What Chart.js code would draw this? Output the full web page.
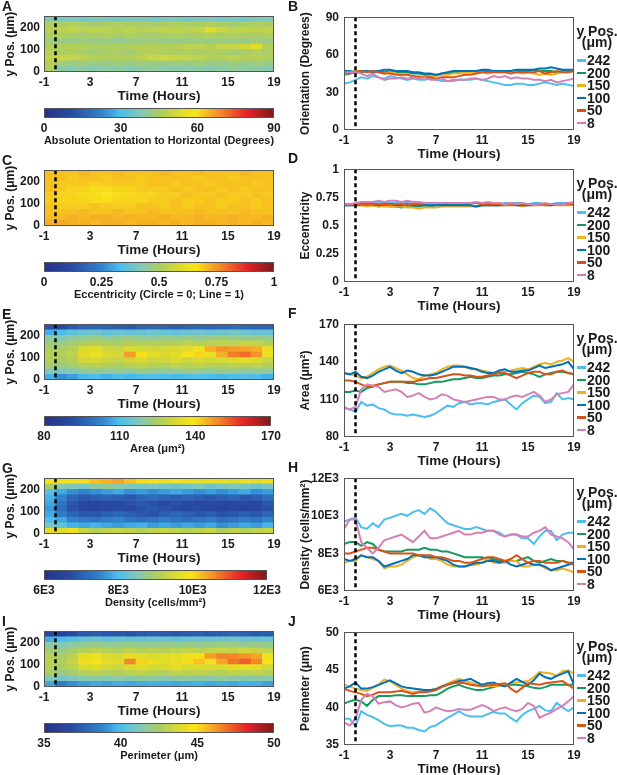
<!DOCTYPE html>
<html>
<head>
<meta charset="utf-8">
<script src="https://cdn.jsdelivr.net/npm/chart.js@4.4.1/dist/chart.umd.min.js"></script>
<style>
  body { margin: 0; background: #fff; width: 617px; height: 775px; position: relative; overflow: hidden;
         font-family: "Liberation Sans", Arial, Helvetica, sans-serif; color: #1a1a1a; }
  canvas { position: absolute; }
  .txt { position: absolute; font-weight: bold; white-space: nowrap; }
  .letter { font-size: 14px; line-height: 14px; }
  .leg { font-size: 14px; line-height: 12px; }
  .sw { position: absolute; width: 9px; height: 2.5px; }
</style>
</head>
<body>
<script>
// ---- shared axes ----
const TIMES = [-1,-0.5,0,0.5,1,1.5,2,2.5,3,3.5,4,4.5,5,5.5,6,6.5,7,7.5,8,8.5,9,9.5,10,10.5,11,11.5,12,12.5,13,13.5,14,14.5,15,15.5,16,16.5,17,17.5,18,18.5,19];
const BIN_CENTERS = [-0.5,0.5,1.5,2.5,3.5,4.5,5.5,6.5,7.5,8.5,9.5,10.5,11.5,12.5,13.5,14.5,15.5,16.5,17.5,18.5];
const ROW_EDGES = [0,25,50,75,100,125,150,175,200,225,250];
const X_TICKS = [-1,3,7,11,15,19];
const HEAT_Y_TICKS = [0,100,200];
const MARK_TIME = 0;

const Y_POS = ["242","200","150","100","50","8"];
const SERIES_COLORS = ["#4dbeee","#139a5c","#edb120","#0072bd","#d95319","#d77fb5"];

// ---- B: orientation (degrees) ----
const orient242 = [37,38,40,42,41,43,42,41,43,42,41,40,41,40,40,41,40,39,39,39,40,40,40,41,40,39,38,37,36,36,37,37,36,36,37,38,37,36,37,36,35];
const orient200 = [44,45,46,46,47,47,47,46,47,46,46,46,45,45,44,44,44,45,45,46,46,46,46,46,47,47,47,46,47,47,47,47,47,48,47,47,47,46,47,47,48];
const orient150 = [45,46,47,47,47,46,46,45,46,45,44,44,43,43,42,43,43,44,44,45,45,46,46,46,46,45,46,46,46,47,46,45,46,45,44,45,44,45,46,46,47];
const orient100 = [47,47,46,47,47,46,47,48,48,47,47,47,46,46,45,45,44,45,46,47,47,47,47,47,48,48,47,47,47,47,48,48,48,48,49,49,50,49,48,48,48];
const orient50  = [46,45,46,47,46,47,46,45,45,44,44,44,43,42,42,42,41,42,42,42,43,44,44,45,46,46,46,46,46,45,46,46,46,46,47,45,46,47,46,46,47];
const orient8   = [46,46,46,45,43,45,42,40,41,41,42,41,42,41,42,40,40,41,39,40,40,40,41,41,40,41,43,42,43,41,42,41,41,40,40,39,40,38,39,40,41];

// ---- D: eccentricity ----
const ecc242 = [.68,.68,.69,.69,.69,.70,.70,.70,.70,.70,.70,.70,.70,.69,.69,.69,.69,.69,.69,.69,.69,.69,.70,.70,.70,.70,.69,.69,.70,.70,.70,.70,.69,.70,.70,.69,.69,.70,.70,.70,.71];
const ecc200 = [.69,.69,.68,.68,.68,.68,.67,.68,.67,.67,.66,.67,.67,.67,.68,.67,.68,.68,.68,.68,.68,.68,.68,.67,.68,.68,.68,.68,.68,.68,.69,.68,.68,.68,.69,.68,.68,.69,.68,.69,.69];
const ecc150 = [.68,.68,.68,.68,.67,.68,.67,.67,.67,.67,.67,.66,.66,.65,.66,.66,.66,.67,.67,.67,.67,.67,.67,.67,.68,.68,.68,.68,.68,.68,.68,.67,.68,.68,.68,.68,.68,.68,.68,.68,.68];
const ecc100 = [.68,.68,.68,.69,.69,.69,.68,.69,.69,.68,.68,.69,.68,.68,.68,.68,.68,.68,.68,.68,.68,.68,.68,.67,.68,.68,.68,.68,.69,.69,.68,.68,.68,.69,.69,.69,.68,.69,.69,.70,.70];
const ecc50  = [.69,.69,.69,.69,.69,.69,.69,.69,.69,.69,.69,.68,.69,.69,.70,.70,.70,.70,.70,.70,.70,.70,.70,.70,.69,.69,.69,.69,.69,.69,.69,.69,.69,.69,.69,.69,.69,.69,.69,.69,.69];
const ecc8   = [.69,.69,.70,.71,.71,.71,.72,.71,.72,.72,.71,.72,.71,.71,.70,.70,.70,.70,.70,.70,.70,.70,.70,.71,.70,.71,.70,.70,.69,.70,.69,.70,.69,.69,.69,.70,.69,.69,.69,.70,.70];

// ---- F: area (um^2) ----
const area242 = [103,102,100,108,105,106,103,102,99,98,98,97,98,97,96,97,99,102,105,104,107,108,106,107,107,106,108,109,110,106,102,107,110,113,112,107,108,115,110,111,110];
const area200 = [116,116,117,116,119,120,122,123,124,124,124,123,123,122,122,123,124,124,125,126,126,127,128,127,127,128,129,129,130,130,131,132,131,130,128,130,131,132,132,131,130];
const area150 = [131,130,129,127,128,131,134,136,137,135,133,130,127,126,129,130,131,134,136,137,137,136,134,134,133,132,131,132,132,133,134,135,134,136,138,139,138,140,141,143,140];
const area100 = [131,130,132,128,127,129,132,134,136,133,131,133,132,130,129,129,130,132,134,136,136,136,135,134,132,131,131,133,134,132,132,133,133,135,137,135,136,137,138,140,134];
const area50  = [125,125,124,122,120,121,122,123,124,124,124,124,124,125,126,127,127,128,129,130,130,129,129,128,128,129,130,131,131,129,127,129,131,132,132,130,130,132,133,131,130];
const area8   = [104,102,104,118,122,121,120,116,117,118,116,112,113,115,112,110,111,114,113,110,109,108,109,110,111,112,112,110,110,112,113,112,114,116,113,108,110,114,115,116,122];

// ---- H: density (thousand cells/mm^2) ----
const dens242 = [9.7,9.8,9.9,9.4,9.3,9.6,9.4,9.8,9.9,10.0,10.1,10.0,10.2,10.3,10.1,10.4,10.2,9.9,9.6,9.5,9.4,9.3,9.3,9.4,9.3,9.2,9.2,9.1,8.9,9.0,9.0,8.8,8.8,8.5,8.9,9.2,9.2,8.7,9.0,9.1,9.1];
const dens200 = [8.5,8.6,8.6,8.4,8.6,8.5,8.2,8.1,8.1,8.1,8.1,8.2,8.2,8.2,8.3,8.2,8.2,8.1,8.1,8.0,7.9,7.8,7.8,7.8,7.8,7.7,7.7,7.6,7.6,7.6,7.6,7.7,7.8,7.6,7.5,7.6,7.7,7.6,7.6,7.5,7.5];
const dens150 = [7.5,7.6,7.6,7.9,7.8,7.7,7.6,7.2,7.3,7.3,7.4,7.6,7.8,7.9,7.9,7.7,7.7,7.6,7.4,7.3,7.3,7.3,7.4,7.4,7.5,7.7,7.5,7.5,7.5,7.6,7.6,7.3,7.3,7.4,7.4,7.2,7.1,7.1,7.2,7.1,7.0];
const dens100 = [7.7,7.6,7.7,7.9,7.8,7.8,7.6,7.3,7.4,7.5,7.6,7.7,7.9,7.9,7.8,7.8,7.8,7.7,7.6,7.4,7.3,7.3,7.4,7.5,7.5,7.6,7.6,7.5,7.6,7.4,7.3,7.4,7.5,7.4,7.4,7.3,7.1,7.2,7.3,7.4,7.5];
const dens50  = [8.0,8.0,8.1,8.2,8.3,8.3,8.2,8.1,8.0,8.0,8.0,8.0,8.0,7.9,7.9,7.9,7.8,7.8,7.7,7.6,7.6,7.5,7.5,7.6,7.7,7.8,7.8,7.7,7.6,7.7,7.9,7.7,7.5,7.6,7.6,7.5,7.5,7.5,7.6,7.5,7.4];
const dens8   = [9.3,9.8,9.8,8.6,8.3,8.0,8.3,8.7,8.8,8.9,9.0,8.8,8.6,8.9,9.2,8.8,8.8,8.9,9.0,9.1,9.2,9.0,9.0,9.1,9.1,9.2,9.2,9.0,8.9,9.0,9.0,8.9,8.9,9.1,9.2,9.4,9.0,8.9,8.8,8.6,8.2];

// ---- J: perimeter (um) ----
const perim242 = [38.5,38.5,37.5,39.5,39.0,38.7,38.3,37.8,37.5,37.6,37.6,37.3,37.3,37.0,36.8,37.4,37.6,38.1,38.6,39.0,39.5,39.0,38.8,38.8,38.8,39.1,39.4,39.2,39.2,38.6,38.1,39.0,39.5,39.8,40.2,39.6,39.5,40.6,40.0,39.5,40.0];
const perim200 = [40.5,40.8,41.0,40.8,40.2,41.0,41.5,41.5,41.5,41.6,41.6,41.5,41.5,41.5,41.5,41.6,41.6,42.0,42.5,42.8,43.0,42.7,42.5,42.3,42.3,42.5,42.7,42.9,43.0,43.0,43.0,42.9,42.8,42.6,42.5,42.7,43.0,43.0,43.0,43.0,43.0];
const perim150 = [43.0,42.8,42.5,42.3,42.2,42.6,43.0,43.7,43.5,43.0,42.5,42.2,42.0,42.1,42.2,42.3,42.5,42.8,43.2,43.5,43.8,43.5,43.3,43.1,43.0,42.9,42.8,42.9,43.0,43.2,43.3,43.4,43.5,44.0,44.7,44.6,44.5,44.2,44.8,44.9,44.5];
const perim100 = [42.5,42.8,43.3,42.5,42.5,42.7,43.0,43.3,43.6,43.2,42.8,42.6,42.5,42.4,42.3,42.3,42.4,42.8,43.0,43.3,43.5,43.6,43.8,43.4,43.0,43.2,43.3,43.0,42.8,43.3,43.8,43.4,43.0,43.6,44.5,44.0,43.8,44.2,44.5,44.8,43.0];
const perim50  = [42.5,42.2,42.0,41.8,41.5,41.7,42.0,42.0,42.0,42.1,42.2,42.0,41.8,42.0,42.0,42.1,42.3,42.7,43.0,43.2,43.3,43.2,43.0,42.9,42.8,42.9,43.0,43.1,43.2,42.5,42.0,42.6,43.2,43.1,43.0,43.2,43.3,43.4,43.5,43.0,42.5];
const perim8   = [38.0,37.6,38.5,41.0,41.8,41.5,40.5,40.7,40.8,40.3,40.0,40.2,40.5,40.6,39.3,39.5,40.0,39.7,39.5,39.6,39.8,39.7,39.7,40.0,40.3,40.0,39.5,39.8,40.0,39.7,39.5,39.8,40.6,40.2,38.6,39.0,39.3,39.8,40.2,40.8,41.5];

// ---- heatmaps: rows from y = 0-25 (first) up to 225-250 (last), one value per hour bin ----
const orientMap = [
  [46,40,39,40,39,40,40,39,40,41,40,39,40,40,39,40,41,40,40,39],
  [47,43,42,43,42,42,43,42,43,42,42,43,42,43,42,42,43,42,43,42],
  [49,50,49,48,47,46,46,47,48,50,51,50,49,48,47,47,48,47,47,46],
  [47,45,46,45,44,45,45,44,46,47,46,45,46,45,46,45,44,45,46,45],
  [46,46,47,46,45,45,46,46,47,47,46,47,48,48,47,49,50,51,54,47],
  [43,42,42,43,42,42,41,42,42,43,42,42,42,43,42,43,42,42,43,42],
  [45,46,45,44,45,46,45,46,45,44,45,46,45,45,46,45,46,45,45,46],
  [47,48,49,48,49,48,47,48,47,48,49,48,48,49,54,50,48,49,48,49],
  [46,45,46,45,44,45,46,45,45,44,45,46,45,45,46,45,44,45,46,45],
  [38,37,37,36,37,37,36,37,37,36,37,37,36,37,37,36,37,36,37,38]
];
const eccMap = [
  [.72,.73,.72,.72,.71,.72,.72,.71,.72,.72,.71,.72,.71,.72,.72,.71,.72,.71,.72,.71],
  [.71,.71,.72,.71,.72,.72,.71,.72,.71,.71,.72,.71,.71,.72,.71,.71,.72,.71,.71,.72],
  [.70,.70,.70,.71,.70,.70,.71,.70,.70,.71,.70,.70,.70,.71,.70,.70,.70,.71,.70,.70],
  [.70,.69,.69,.69,.70,.69,.69,.69,.70,.70,.69,.70,.69,.70,.70,.69,.70,.70,.69,.70],
  [.69,.68,.68,.68,.67,.67,.68,.68,.68,.69,.69,.70,.69,.69,.70,.69,.69,.70,.69,.70],
  [.69,.68,.68,.67,.67,.66,.67,.67,.68,.68,.69,.69,.70,.69,.69,.70,.69,.69,.70,.69],
  [.70,.69,.68,.68,.67,.67,.68,.68,.69,.69,.69,.70,.69,.70,.70,.69,.70,.69,.70,.70],
  [.70,.69,.69,.69,.68,.69,.69,.69,.69,.70,.70,.69,.70,.70,.69,.70,.70,.70,.69,.70],
  [.70,.70,.69,.70,.70,.69,.70,.70,.69,.70,.70,.70,.70,.69,.70,.70,.69,.70,.70,.70],
  [.70,.70,.70,.71,.70,.70,.71,.70,.70,.70,.71,.70,.70,.71,.70,.70,.70,.71,.70,.70]
];
const areaMap = [
  [108,104,106,109,110,108,110,109,110,111,110,109,110,111,110,109,110,111,110,108],
  [118,117,118,120,121,120,121,120,122,121,120,121,122,121,120,122,121,120,121,120],
  [124,122,124,126,127,126,125,127,128,127,126,128,127,128,127,126,128,127,128,126],
  [126,125,127,131,132,130,129,131,132,130,131,133,130,132,131,132,133,134,133,130],
  [127,126,128,135,136,133,132,147,140,134,133,134,139,141,136,145,150,152,148,137],
  [126,125,127,133,134,131,130,133,132,131,132,133,134,138,145,148,147,146,145,136],
  [123,122,124,126,127,126,125,127,126,127,126,127,128,127,128,129,128,130,129,127],
  [120,118,120,121,122,120,121,122,121,120,122,121,122,121,122,123,122,121,122,121],
  [108,110,112,114,115,113,114,113,114,115,114,113,114,115,114,115,116,115,114,114],
  [92,90,94,96,97,96,95,94,96,97,96,95,96,97,96,97,98,97,96,96]
];
const densMap = [
  [9.7,9.6,9.8,9.3,9.1,9.2,9.3,9.2,9.1,9.2,9.3,9.2,9.1,9.2,9.3,9.0,9.2,9.1,9.2,9.3],
  [8.4,8.2,7.9,7.8,7.9,7.8,7.7,7.8,7.9,7.7,7.8,7.7,7.8,7.7,7.8,7.6,7.7,7.8,7.7,7.9],
  [8.0,7.8,7.5,7.4,7.3,7.4,7.5,7.3,7.2,7.3,7.4,7.3,7.2,7.3,7.4,7.2,7.3,7.4,7.3,7.5],
  [7.8,7.4,7.1,6.9,6.9,7.0,7.1,7.0,6.9,6.8,7.0,7.1,7.0,6.9,7.0,6.8,6.9,7.0,6.9,7.1],
  [7.7,7.2,6.8,6.6,6.5,6.6,6.7,6.6,6.8,6.9,6.8,6.7,6.6,6.7,6.6,6.5,6.6,6.5,6.6,6.8],
  [7.8,7.3,6.9,6.6,6.6,6.7,6.6,6.8,6.9,6.8,6.7,6.8,6.7,6.6,6.7,6.6,6.6,6.7,6.6,6.9],
  [7.9,7.5,7.1,6.9,7.0,7.1,7.0,6.9,7.1,7.2,7.1,7.0,7.1,7.0,6.9,7.0,7.1,6.9,7.0,7.2],
  [8.1,7.8,7.6,7.5,7.6,7.7,7.8,7.6,7.7,7.6,7.7,7.8,7.7,7.6,7.7,7.6,7.7,7.8,7.6,7.7],
  [9.0,8.6,8.5,8.4,8.6,8.7,8.6,8.5,8.4,8.5,8.4,8.3,8.4,8.5,8.3,8.4,8.5,8.4,8.3,8.4],
  [9.9,9.8,9.9,10.0,10.2,10.3,10.4,10.2,10.0,9.9,9.8,9.9,9.8,9.7,9.8,9.7,9.6,9.8,9.7,9.8]
];
const perimMap = [
  [39.5,38.5,39.0,39.3,39.5,39.4,39.6,39.5,39.6,39.7,39.6,39.5,39.6,39.7,39.5,39.6,39.5,39.7,39.6,39.4],
  [41.3,41.0,41.2,41.5,41.6,41.5,41.6,41.5,41.7,41.6,41.5,41.6,41.7,41.6,41.5,41.7,41.6,41.5,41.6,41.5],
  [42.5,42.0,42.4,42.8,43.0,42.8,42.7,43.0,43.1,42.9,42.8,43.1,43.0,43.1,42.9,42.8,43.1,43.0,43.1,42.8],
  [42.8,42.5,43.0,43.8,44.0,43.6,43.4,43.8,44.0,43.7,43.8,44.1,43.7,43.9,43.8,43.9,44.1,44.3,44.1,43.6],
  [43.0,42.7,43.2,44.5,44.7,44.2,44.0,46.5,45.2,44.3,44.1,44.3,45.0,45.5,44.6,46.0,46.8,47.2,46.5,44.8],
  [42.8,42.5,43.0,44.2,44.4,43.8,43.6,44.2,44.0,43.8,44.0,44.2,44.4,45.0,46.2,46.6,46.5,46.3,46.0,44.6],
  [42.2,42.0,42.4,42.8,43.0,42.8,42.7,43.0,42.8,43.0,42.8,43.0,43.2,43.0,43.2,43.3,43.2,43.5,43.3,43.0],
  [41.6,41.3,41.6,41.8,42.0,41.8,41.9,42.0,41.9,41.8,42.0,41.9,42.0,41.9,42.0,42.1,42.0,41.9,42.0,41.9],
  [39.6,40.0,40.3,40.6,40.8,40.5,40.7,40.6,40.7,40.8,40.7,40.6,40.7,40.8,40.7,40.8,40.9,40.8,40.7,40.7],
  [36.5,36.3,36.8,37.3,37.5,37.3,37.2,37.1,37.3,37.5,37.3,37.2,37.3,37.5,37.3,37.5,37.7,37.5,37.3,37.4]
];

// colormap stops: [fraction, rgb]
const CMAP = [[0,[38,50,135]],[0.12,[40,75,162]],[0.25,[48,130,205]],[0.33,[75,190,238]],[0.42,[130,200,185]],
              [0.5,[170,205,100]],[0.6,[225,220,40]],[0.66,[248,228,25]],[0.75,[245,150,40]],[0.88,[232,35,40]],[1,[125,25,25]]];

function cmap(f) {
  f = Math.max(0, Math.min(1, f));
  for (let i = 1; i < CMAP.length; i++) {
    if (f <= CMAP[i][0]) {
      const [f0, c0] = CMAP[i - 1], [f1, c1] = CMAP[i];
      const t = (f - f0) / (f1 - f0);
      return "rgb(" + c0.map((c, k) => Math.round(c + (c1[k] - c) * t)).join(",") + ")";
    }
  }
  return "rgb(125,25,25)";
}

Chart.defaults.font.family = "'Liberation Sans', Arial, Helvetica, sans-serif";
Chart.defaults.font.weight = "bold";
Chart.defaults.font.size = 12;
Chart.defaults.color = "#1a1a1a";

const framePlugin = {
  id: "frame",
  afterDraw(chart) {
    const a = chart.chartArea, ctx = chart.ctx;
    ctx.save();
    ctx.strokeStyle = "#555";
    ctx.lineWidth = 1;
    ctx.strokeRect(Math.round(a.left) + 0.5, Math.round(a.top) + 0.5, Math.round(a.width) - 1, Math.round(a.height) - 1);
    ctx.restore();
  }
};

const markerPlugin = {
  id: "marker",
  afterDatasetsDraw(chart) {
    const a = chart.chartArea, ctx = chart.ctx;
    const x = chart.scales.x.getPixelForValue(MARK_TIME);
    ctx.save();
    ctx.strokeStyle = "#000";
    ctx.lineWidth = 2.5;
    ctx.setLineDash([4, 3]);
    ctx.beginPath();
    ctx.moveTo(x, a.top);
    ctx.lineTo(x, a.bottom);
    ctx.stroke();
    ctx.restore();
  }
};

const gradientPlugin = {
  id: "gradient",
  beforeDatasetsDraw(chart) {
    const a = chart.chartArea, ctx = chart.ctx;
    const g = ctx.createLinearGradient(a.left, 0, a.right, 0);
    CMAP.forEach(([f, c]) => g.addColorStop(f, "rgb(" + c.join(",") + ")"));
    ctx.save();
    ctx.fillStyle = g;
    ctx.fillRect(a.left, a.top, a.width, a.height);
    ctx.restore();
  }
};

function addCanvas(left, top, w, h) {
  const c = document.createElement("canvas");
  c.width = w; c.height = h;
  c.style.left = left + "px"; c.style.top = top + "px";
  document.body.appendChild(c);
  return c;
}

function addText(cls, text, left, top, extra) {
  const d = document.createElement("div");
  d.className = "txt " + cls;
  d.textContent = text;
  d.style.left = left + "px"; d.style.top = top + "px";
  Object.assign(d.style, extra || {});
  document.body.appendChild(d);
  return d;
}

function fixedTicks(values) {
  return (scale) => { scale.ticks = values.map((v) => ({ value: v })); };
}

function timeAxis() {
  return {
    type: "linear", min: -1, max: 19, offset: false,
    grid: { display: false, drawTicks: false, offset: false },
    border: { display: false },
    afterBuildTicks: fixedTicks(X_TICKS),
    ticks: { padding: 3, maxRotation: 0, callback: (v) => String(v) },
    title: { display: true, text: "Time (Hours)", font: { size: 13.5 }, padding: { top: 0, bottom: 4 } },
    afterFit: (s) => { s.height = 36; }
  };
}

// heatmap panel + its colorbar
function heatPanel(top, rows, lo, hi, cbTicks, cbLabel, cbTitle) {
  const datasets = rows.map((vals, r) => ({
    data: vals.map((v, j) => ({ x: BIN_CENTERS[j], y: [ROW_EDGES[r], ROW_EDGES[r + 1]] })),
    backgroundColor: vals.map((v) => cmap((v - lo) / (hi - lo))),
    borderWidth: 0
  }));
  new Chart(addCanvas(0, top - 10, 284, 103), {
    type: "bar",
    data: { datasets },
    options: {
      responsive: false, animation: false,
      layout: { padding: { top: 10, right: 10 } },
      datasets: { bar: { grouped: false, barPercentage: 1, categoryPercentage: 1 } },
      plugins: { legend: { display: false }, tooltip: { enabled: false } },
      scales: {
        x: timeAxis(),
        y: {
          min: 0, max: 250,
          grid: { display: false, drawTicks: false },
          border: { display: false },
          afterBuildTicks: fixedTicks(HEAT_Y_TICKS),
          ticks: { padding: 4 },
          title: { display: true, text: "y Pos. (μm)", font: { size: 12 }, padding: { top: 3, bottom: 0 } },
          afterFit: (s) => { s.width = 44; }
        }
      }
    },
    plugins: [markerPlugin, framePlugin]
  });
  new Chart(addCanvas(0, top + 91, 284, 44), {
    type: "bar",
    data: { datasets: [] },
    options: {
      responsive: false, animation: false,
      layout: { padding: { top: 2, left: 44, right: 10 } },
      plugins: { legend: { display: false }, tooltip: { enabled: false } },
      scales: {
        x: {
          type: "linear", min: cbTicks[0], max: cbTicks[cbTicks.length - 1], offset: false,
          grid: { display: false, drawTicks: false },
          border: { display: false },
          afterBuildTicks: fixedTicks(cbTicks),
          ticks: { padding: 3, maxRotation: 0, callback: cbLabel },
          title: { display: true, text: cbTitle, font: { size: 11 }, padding: { top: 0, bottom: 2 } },
          afterFit: (s) => { s.height = 32; }
        },
        y: { display: false, min: 0, max: 1 }
      }
    },
    plugins: [gradientPlugin, framePlugin]
  });
}

// line panel with legend
function linePanel(top, series, yMin, yMax, yTicks, yLabel, yTitle) {
  const datasets = series.map((vals, i) => ({
    label: Y_POS[i],
    data: vals.map((v, k) => ({ x: TIMES[k], y: v })),
    borderColor: SERIES_COLORS[i],
    borderWidth: 2,
    pointRadius: 0,
    tension: 0,
    order: series.length - 1 - i
  }));
  new Chart(addCanvas(296, top - 10, 288, 161), {
    type: "line",
    data: { datasets },
    options: {
      responsive: false, animation: false,
      layout: { padding: { top: 10, right: 10 } },
      plugins: { legend: { display: false }, tooltip: { enabled: false } },
      scales: {
        x: timeAxis(),
        y: {
          min: yMin, max: yMax,
          grid: { display: false, drawTicks: false },
          border: { display: false },
          afterBuildTicks: fixedTicks(yTicks),
          ticks: { padding: 5, callback: yLabel },
          title: { display: true, text: yTitle, font: { size: 12 }, padding: { top: 2, bottom: 0 } },
          afterFit: (s) => { s.width = 48; }
        }
      }
    },
    plugins: [markerPlugin, framePlugin]
  });
  addText("leg", "y Pos.", 576, top + 10, { width: "42px", textAlign: "center" });
  addText("leg", "(μm)", 576, top + 21, { width: "42px", textAlign: "center" });
  Y_POS.forEach((lab, i) => {
    const cy = top + 45 + i * 12.5;
    const sw = document.createElement("div");
    sw.className = "sw";
    sw.style.left = "577px"; sw.style.top = (cy - 1) + "px";
    sw.style.background = SERIES_COLORS[i];
    document.body.appendChild(sw);
    addText("leg", lab, 587, cy - 6);
  });
}

const HEAT_TOPS = [15, 169, 323, 477, 630];
const LINE_TOPS = [15, 167, 322, 476, 630];
const LETTERS = [["A", "B"], ["C", "D"], ["E", "F"], ["G", "H"], ["I", "J"]];

const plain = (v) => String(v);
const thousands = (v) => v + "E3";

heatPanel(HEAT_TOPS[0], orientMap, 0, 90, [0, 30, 60, 90], plain, "Absolute Orientation to Horizontal (Degrees)");
heatPanel(HEAT_TOPS[1], eccMap, 0, 1, [0, 0.25, 0.5, 0.75, 1], plain, "Eccentricity (Circle = 0; Line = 1)");
heatPanel(HEAT_TOPS[2], areaMap, 80, 170, [80, 110, 140, 170], plain, "Area (μm²)");
heatPanel(HEAT_TOPS[3], densMap, 6, 12, [6, 8, 10, 12], thousands, "Density (cells/mm²)");
heatPanel(HEAT_TOPS[4], perimMap, 35, 50, [35, 40, 45, 50], plain, "Perimeter (μm)");

linePanel(LINE_TOPS[0], [orient242, orient200, orient150, orient100, orient50, orient8], 0, 90, [0, 30, 60, 90], plain, "Orientation (Degrees)");
linePanel(LINE_TOPS[1], [ecc242, ecc200, ecc150, ecc100, ecc50, ecc8], 0, 1, [0, 0.25, 0.5, 0.75, 1], plain, "Eccentricity");
linePanel(LINE_TOPS[2], [area242, area200, area150, area100, area50, area8], 80, 170, [80, 110, 140, 170], plain, "Area (μm²)");
linePanel(LINE_TOPS[3], [dens242, dens200, dens150, dens100, dens50, dens8], 6, 12, [6, 8, 10, 12], thousands, "Density (cells/mm²)");
linePanel(LINE_TOPS[4], [perim242, perim200, perim150, perim100, perim50, perim8], 35, 50, [35, 40, 45, 50], plain, "Perimeter (μm)");

LETTERS.forEach(([l, r], i) => {
  addText("letter", l, 2, HEAT_TOPS[i] - 16);
  addText("letter", r, 288, LINE_TOPS[i] - 16);
});
</script>
</body>
</html>
